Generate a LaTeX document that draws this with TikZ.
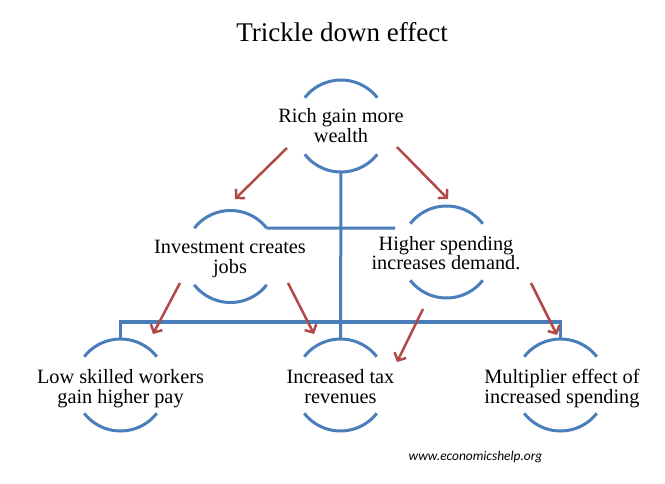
\documentclass[tikz,border=0pt]{standalone}
\usepackage{fontspec}
\setmainfont{Liberation Serif}
\newfontfamily\webfont{Carlito}
\usetikzlibrary{arrows.meta,calc}
\definecolor{lineblue}{HTML}{4A7EBB}
\definecolor{arrowred}{HTML}{B04A46}
\begin{document}
\begin{tikzpicture}[x=1pt,y=-1pt,
  ring/.style={circle,minimum size=92pt,inner sep=0pt,outer sep=0pt,draw=none},
  arcline/.style={draw=lineblue,line width=3pt},
  boxtext/.style={align=center,font=\fontsize{20.3}{20}\selectfont,inner sep=0pt,anchor=base},
  flow/.style={draw=arrowred,line width=2.5pt,-{Straight Barb[length=6pt,width=13pt]}}
]
\useasboundingbox[fill=white] (0,0) rectangle (665,484);

\node[font=\fontsize{27}{30}\selectfont,anchor=base,inner sep=0pt] (title) at (342,42) {Trickle down effect};

\node[ring] (rich) at (341,126) {};
\node[ring] (inv) at (230.5,256.5) {};
\node[ring] (hs) at (446.5,252) {};
\node[ring] (low) at (120.5,385) {};
\node[ring] (tax) at (340.5,385) {};
\node[ring] (mult) at (560.5,385) {};

\foreach \n in {rich,inv,hs,low,tax,mult}{
  \draw[arcline] (\n.38) arc[start angle=38,end angle=142,radius=46pt];
  \draw[arcline] (\n.218) arc[start angle=218,end angle=322,radius=46pt];
}

\coordinate (barl) at (120.5,322);
\coordinate (barr) at (560.5,322);
\coordinate (midend) at (395,228);
\draw[arcline] (low.north) -- (barl) -- (barr) -- (mult.north);
\draw[arcline] (rich.south) -- (tax.north);
\draw[arcline] (inv.38) -- (midend);

\node[boxtext] (richtxt) at (341,143) {Rich gain more\\wealth};
\node[boxtext] (invtxt) at (230,273) {Investment creates\\jobs};
\node[boxtext] (hstxt) at (446,270) {Higher spending\\increases demand.};
\node[boxtext] (lowtxt) at (120.5,403) {Low skilled workers\\gain higher pay};
\node[boxtext] (taxtxt) at (340.5,403) {Increased tax\\revenues};
\node[boxtext] (multtxt) at (562,403) {Multiplier effect of\\increased spending};

\draw[flow] ($(rich)+(-54,22)$) -- ($(inv)+(4.5,-57.5)$);
\draw[flow] ($(rich)+(56,21)$) -- ($(hs)+(1.5,-53)$);
\draw[flow] ($(inv)+(-50.5,26.5)$) -- ($(low)+(32.5,-51)$);
\draw[flow] ($(inv)+(57.5,26.5)$) -- ($(tax)+(-26.5,-51)$);
\draw[flow] ($(hs)+(-23.5,57)$) -- ($(tax)+(56.5,-23)$);
\draw[flow] ($(hs)+(84.5,31)$) -- ($(mult)+(-3.5,-50)$);

\node[font=\webfont\itshape\fontsize{13.4}{15}\selectfont,anchor=base,inner sep=0pt] (web) at (475.5,460) {www.economicshelp.org};
\end{tikzpicture}
\end{document}
